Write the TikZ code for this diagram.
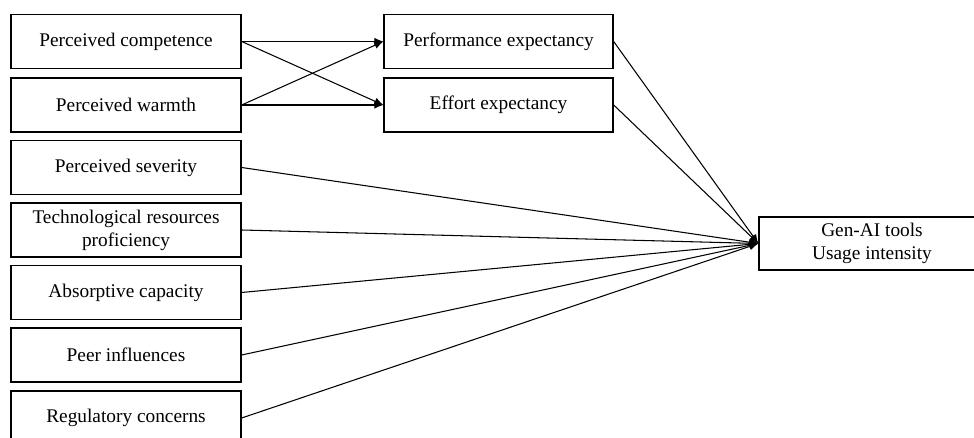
\documentclass[tikz,border=0pt]{standalone}
\usepackage{fontspec}
\setmainfont{Liberation Serif}
\usepackage{tikz}
\usetikzlibrary{arrows.meta}

\tikzset{
  factor/.style={draw, line width=0.8pt, minimum width=4.6cm, minimum height=1.08cm,
    inner sep=0pt, align=center, font=\fontsize{11}{13}\selectfont},
  link/.style={-{Latex[length=1.8mm, width=1.5mm]}, line width=0.6pt}
}

\begin{document}
\begin{tikzpicture}[x=0.02cm, y=-0.02cm]
        \useasboundingbox (0, 0) rectangle (974, 438);
        \clip (0, 0) rectangle (974, 438);

        % antecedents
        \node[factor] (comp) at (126, 41.5) {Perceived competence};
        \node[factor] (warm) at (126, 105) {Perceived warmth};
        \node[factor] (sev) at (126, 167.5) {Perceived severity};
        \node[factor] (tech) at (126, 230) {Technological resources\\proficiency};
        \node[factor] (abso) at (126, 292.5) {Absorptive capacity};
        \node[factor] (peer) at (126, 355) {Peer influences};
        \node[factor] (reg) at (126, 418) {Regulatory concerns};

        % mediators
        \node[factor, minimum width=4.58cm] (perf) at (498.5, 41.5) {Performance expectancy};
        \node[factor, minimum width=4.58cm] (eff) at (498.5, 105) {Effort expectancy};

        % outcome
        \node[factor, minimum width=4.52cm, minimum height=1.06cm] (usage) at (872, 243.5) {Gen-AI tools\\Usage intensity};

        \draw[link] (comp.east) -- (perf.west);
        \draw[link] (comp.east) -- (eff.west);
        \draw[link] (warm.east) -- (perf.west);
        \draw[link] (warm.east) -- (eff.west);

        \foreach \src in {perf, eff, sev, tech, abso, peer, reg}
            \draw[link] (\src.east) -- (usage.west);
    \end{tikzpicture}
\end{document}
